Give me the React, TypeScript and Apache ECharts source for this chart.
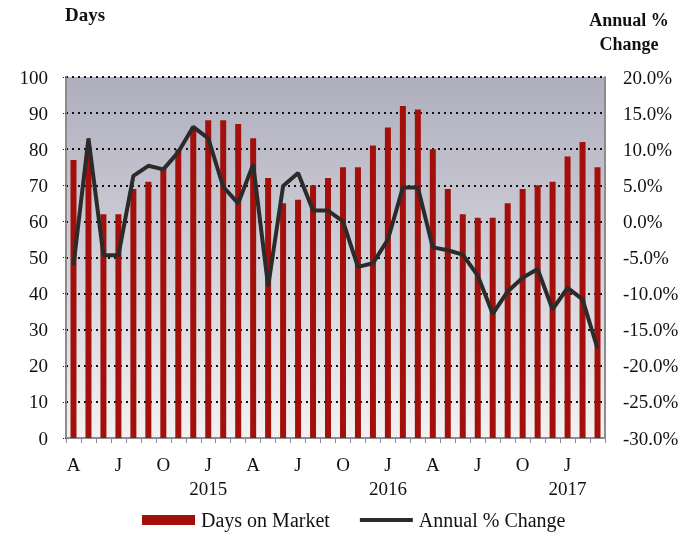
import React, { useEffect, useRef } from "react";
import * as echarts from "echarts";

const months = [
  "2014-04","2014-05","2014-06","2014-07","2014-08","2014-09","2014-10","2014-11","2014-12",
  "2015-01","2015-02","2015-03","2015-04","2015-05","2015-06","2015-07","2015-08","2015-09",
  "2015-10","2015-11","2015-12","2016-01","2016-02","2016-03","2016-04","2016-05","2016-06",
  "2016-07","2016-08","2016-09","2016-10","2016-11","2016-12","2017-01","2017-02","2017-03",
];
const monthLetters = ["J","F","M","A","M","J","J","A","S","O","N","D"];

const daysOnMarket = [
  77, 80, 62, 62, 69, 71, 75, 80, 86, 88, 88, 87,
  83, 72, 65, 66, 70, 72, 75, 75, 81, 86, 92, 91,
  80, 69, 62, 61, 61, 65, 69, 70, 71, 78, 82, 75,
];
const annualChange = [
  -6.1, 11.5, -4.7, -4.7, 6.3, 7.7, 7.2, 9.6, 13.1, 11.5, 4.8, 2.5,
  7.9, -9.0, 4.9, 6.7, 1.5, 1.5, 0.0, -6.3, -5.8, -2.5, 4.7, 4.7,
  -3.6, -4.0, -4.6, -7.5, -12.8, -9.7, -7.8, -6.6, -12.2, -9.2, -10.8, -17.6,
];

const FONT = "Liberation Serif";

export default function App() {
  const ref = useRef<HTMLDivElement>(null);
  useEffect(() => {
    if (!ref.current) return;
    const chart = echarts.init(ref.current, null, { renderer: "svg" });
    chart.setOption({
      animation: false,
      textStyle: { fontFamily: FONT },
      grid: {
        left: 66,
        right: 93,
        top: 77,
        bottom: 95,
        show: true,
        borderWidth: 0,
        backgroundColor: new echarts.graphic.LinearGradient(0, 0, 0, 1, [
          { offset: 0, color: "#afaebe" },
          { offset: 1, color: "#f2f2f2" },
        ]),
      },
      graphic: [
        {
          type: "text",
          left: 65,
          top: 5,
          style: { text: "Days", font: `bold 19px "${FONT}"`, fill: "#111" },
        },
        {
          type: "text",
          x: 629,
          y: 8,
          style: {
            text: "Annual %\nChange",
            font: `bold 18px "${FONT}"`,
            fill: "#111",
            align: "center",
            lineHeight: 24,
          },
        },
      ],
      legend: {
        left: 137,
        top: 505,
        itemGap: 30,
        itemWidth: 53,
        itemHeight: 10,
        textStyle: { fontFamily: FONT, fontSize: 20, color: "#111", padding: [0, 0, 0, 1] },
        data: [
          { name: "Days on Market", icon: "rect" },
          {
            name: "Annual % Change",
            icon: "path://M0,0H52V4H0Z",
            itemStyle: { color: "#2b2b2b" },
          },
        ],
      },
      xAxis: {
        type: "category",
        data: months,
        boundaryGap: true,
        axisLine: { lineStyle: { color: "#8c8c8c", width: 2 } },
        axisTick: { show: true, interval: 0, length: 5, lineStyle: { color: "#8c8c8c", width: 1 } },
        axisLabel: {
          interval: 2,
          margin: 14,
          fontFamily: FONT,
          fontSize: 19,
          color: "#111",
          lineHeight: 24,
          formatter: (v: string) => {
            const [y, m] = v.split("-");
            const mi = parseInt(m, 10) - 1;
            return mi === 0 ? `${monthLetters[mi]}\n${y}` : monthLetters[mi];
          },
        },
      },
      yAxis: [
        {
          type: "value",
          min: 0,
          max: 100,
          interval: 10,
          axisLine: { show: true, lineStyle: { color: "#8c8c8c", width: 2 } },
          axisTick: { show: true, length: 4, lineStyle: { color: "#222", type: "dotted" } },
          axisLabel: { margin: 18, fontFamily: FONT, fontSize: 19, color: "#111" },
          splitLine: { show: true, lineStyle: { color: "#111", width: 2, type: [2, 4] } },
        },
        {
          type: "value",
          min: -30,
          max: 20,
          interval: 5,
          axisLine: { show: true, lineStyle: { color: "#8c8c8c", width: 2 } },
          axisTick: { show: false },
          axisLabel: {
            margin: 18,
            fontFamily: FONT,
            fontSize: 19,
            color: "#111",
            formatter: (v: number) => `${v.toFixed(1)}%`,
          },
          splitLine: { show: false },
        },
      ],
      series: [
        {
          name: "Days on Market",
          type: "bar",
          data: daysOnMarket,
          barWidth: 6,
          itemStyle: { color: "#a3100b" },
        },
        {
          name: "Annual % Change",
          type: "line",
          yAxisIndex: 1,
          data: annualChange,
          symbol: "none",
          lineStyle: { color: "#2b2b2b", width: 4 },
          itemStyle: { color: "#2b2b2b" },
        },
      ],
    });
    return () => chart.dispose();
  }, []);
  return (
    <div
      ref={ref}
      style={{ position: "fixed", left: 0, top: 0, width: 698, height: 533 }}
    />
  );
}
